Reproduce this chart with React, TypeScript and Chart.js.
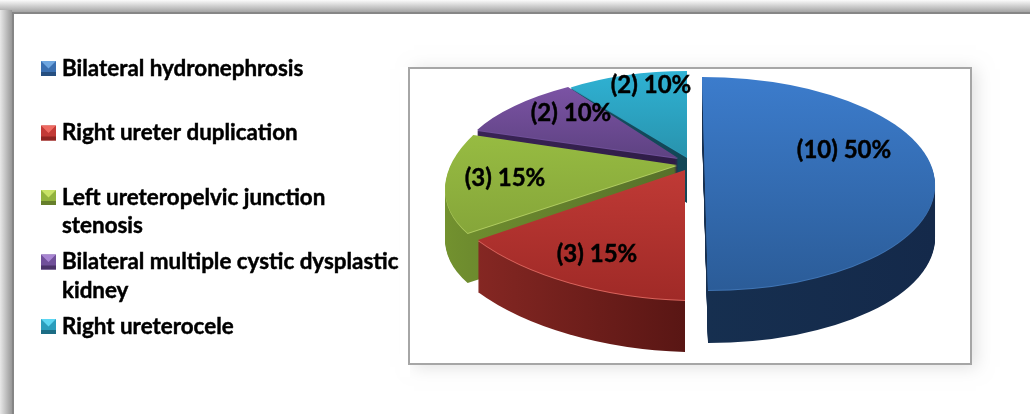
import React, { useEffect, useRef } from "react";
import { Chart, registerables } from "chart.js";

Chart.register(...registerables);

const categories = [
  "Bilateral hydronephrosis",
  "Right ureter duplication",
  "Left ureteropelvic junction stenosis",
  "Bilateral multiple cystic dysplastic kidney",
  "Right ureterocele",
];
const counts = [10, 3, 3, 2, 2];
const percents = [50, 15, 15, 10, 10];
const legendLines = [
  ["Bilateral hydronephrosis"],
  ["Right ureter duplication"],
  ["Left ureteropelvic junction", "stenosis"],
  ["Bilateral multiple cystic dysplastic", "kidney"],
  ["Right ureterocele"],
];

// Perspective of each exploded slice: apex, affine frame of its unit circle, extrusion depth
const frames = [
  { ax: 705, ay: 183.5, a: 230, b: 0, c: 3, d: 106.5, depth: 53 },
  { ax: 685, ay: 170, a: 256, b: 8, c: 0, d: 130, depth: 52 },
  { ax: 677, ay: 165, a: 228, b: -4.2, c: -42.4, d: 110, depth: 50 },
  { ax: 678, ay: 158, a: 218.7, b: 1.2, c: -23, d: 86.8, depth: 46 },
  { ax: 687, ay: 157, a: 198, b: 0, c: 0, d: 86, depth: 46 },
];
const faces = [
  ["#3c7ccc", "#2b5c98"],
  ["#e04a44", "#a02a27"],
  ["#a4cc48", "#7e9c36"],
  ["#8257ac", "#3a2d58"],
  ["#2fb2d4", "#227486"],
];
const sides = [
  ["#183555", "#14294a"],
  ["#8f2b26", "#591614"],
  ["#74932f", "#56702a"],
  ["#3a2456", "#2e1c46"],
  ["#17566a", "#124656"],
];
const rims = ["#3f74b4", "#d9635c", "#b0cc60", "#6f4f98", "#2c9ab8"];
const legendColors = [
  ["#6ea6e0", "#3a6fb0", "#264f80"],
  ["#ee6a62", "#c23a36", "#8e2421"],
  ["#c8e266", "#92b33e", "#667f2b"],
  ["#a885d2", "#71509a", "#4b3369"],
  ["#5cd6f2", "#2a9dbc", "#1c6c84"],
];
const labelAt = [
  [844, 150],
  [597, 254],
  [505, 178],
  [571, 113],
  [651, 85],
];
const drawOrder = [4, 3, 0, 2, 1];
const LEGEND_FONT = 'bold 22.4px Lato, "Open Sans", sans-serif';
const LABEL_FONT = 'bold 24px Lato, "Open Sans", sans-serif';

const pie3d = {
  id: "pie3d",
  beforeDraw(chart: any) {
    const ctx = chart.ctx;
    const W = chart.width;
    const H = chart.height;
    ctx.save();
    ctx.fillStyle = "#ffffff";
    ctx.fillRect(0, 0, W, H);
    // outer sheet shadow
    let g = ctx.createLinearGradient(0, 0, 0, 12);
    g.addColorStop(0, "#fbfbfb");
    g.addColorStop(1, "#a4a4a4");
    ctx.fillStyle = g;
    ctx.fillRect(0, 0, W, 12);
    g = ctx.createLinearGradient(0, 0, 12, 0);
    g.addColorStop(0, "#e8e8e8");
    g.addColorStop(1, "#989898");
    ctx.fillStyle = g;
    ctx.fillRect(0, 10, 12, H - 10);
    ctx.fillStyle = "#868686";
    ctx.fillRect(12, 12, W - 12, 2);
    ctx.fillRect(12, 12, 2, H - 12);
    // plot frame and its soft shadow
    ctx.shadowColor = "rgba(0,0,0,0.12)";
    ctx.shadowBlur = 16;
    ctx.shadowOffsetX = 4;
    ctx.shadowOffsetY = 2;
    ctx.fillStyle = "#ffffff";
    ctx.fillRect(410, 67, 562, 298);
    ctx.shadowColor = "transparent";
    ctx.fillStyle = "#ffffff";
    ctx.fillRect(400, 67, 10, 310);
    ctx.strokeStyle = "#a6a6a6";
    ctx.lineWidth = 2;
    ctx.strokeRect(409, 68, 562, 296);
    ctx.restore();
  },
  beforeDatasetDraw(chart: any) {
    const ctx = chart.ctx;
    const arcs = chart.getDatasetMeta(0).data;
    drawOrder.forEach((i) => {
      const arc = arcs[i];
      const f = frames[i];
      const R = arc.outerRadius;
      const base = arc.options;
      const paint = (dy: number, stops: string[], horizontal: boolean) => {
        ctx.save();
        ctx.translate(f.ax, f.ay + dy);
        ctx.transform(f.a / R, f.b / R, f.c / R, f.d / R, 0, 0);
        ctx.translate(-arc.x, -arc.y);
        const g = horizontal
          ? ctx.createLinearGradient(arc.x - R, 0, arc.x + R * (i === 0 ? 1 : 0), 0)
          : ctx.createLinearGradient(0, arc.y - R, 0, arc.y + R);
        g.addColorStop(0, stops[0]);
        g.addColorStop(1, stops[1]);
        arc.options = { ...base, backgroundColor: g, borderWidth: 0 };
        arc.draw(ctx);
        arc.options = base;
        ctx.restore();
      };
      for (let dy = f.depth; dy >= 2; dy--) paint(dy, sides[i], true);
      paint(1, [rims[i], rims[i]], false);
      paint(0, faces[i], false);
    });
    return false;
  },
  afterDatasetsDraw(chart: any) {
    const ctx = chart.ctx;
    const heavy = (t: string, x: number, y: number) => {
      ctx.fillText(t, x, y);
      ctx.strokeText(t, x, y);
    };
    ctx.save();
    ctx.fillStyle = "#000000";
    ctx.strokeStyle = "#000000";
    ctx.lineWidth = 0.45;
    ctx.textBaseline = "middle";
    // slice labels
    ctx.font = LABEL_FONT;
    ctx.textAlign = "center";
    counts.forEach((n, i) => {
      heavy(`(${n}) ${percents[i]}%`, labelAt[i][0], labelAt[i][1]);
    });
    // legend
    ctx.font = LEGEND_FONT;
    ctx.textAlign = "left";
    legendLines.forEach((lines, i) => {
      const top = 61 + i * 64.5;
      const [hi, mid, lo] = legendColors[i];
      const s = 15;
      ctx.fillStyle = mid;
      ctx.fillRect(41, top, s, s);
      ctx.fillStyle = lo;
      ctx.fillRect(41, top + s - 4, s, 4);
      ctx.fillStyle = hi;
      ctx.beginPath();
      ctx.moveTo(41, top);
      ctx.lineTo(41 + s, top);
      ctx.lineTo(41 + s / 2, top + s / 2);
      ctx.closePath();
      ctx.fill();
      ctx.fillStyle = "#000000";
      lines.forEach((t, k) => {
        heavy(t, 62, top + 7.5 + k * 28.5);
      });
    });
    ctx.restore();
  },
};

export default function App() {
  const ref = useRef<HTMLCanvasElement>(null);
  useEffect(() => {
    const chart = new Chart(ref.current as HTMLCanvasElement, {
      type: "pie",
      data: {
        labels: categories,
        datasets: [{ data: counts, backgroundColor: faces.map((c) => c[0]), borderWidth: 0 }],
      },
      options: {
        animation: false,
        responsive: false,
        devicePixelRatio: 1,
        rotation: 0,
        layout: { padding: 0 },
        plugins: { legend: { display: false }, tooltip: { enabled: false } },
      },
      plugins: [pie3d],
    } as any);
    return () => chart.destroy();
  }, []);
  return (
    <div style={{ position: "fixed", left: 0, top: 0, width: 1030, height: 414, background: "#fff" }}>
      <canvas ref={ref} width={1030} height={414} style={{ display: "block" }} />
    </div>
  );
}
